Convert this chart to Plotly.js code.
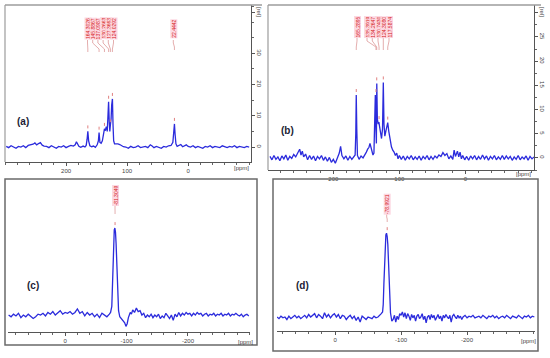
<!DOCTYPE html>
<html><head><meta charset="utf-8">
<script src="https://cdn.plot.ly/plotly-3.0.1.min.js"></script>
<style>html,body{margin:0;padding:0;background:#fff}#chart{width:550px;height:358px}</style>
</head><body><div id="chart"></div>
<script>
// ---------------- data ----------------
// (a) 13C spectrum
const ppmA=[298,294,290,286,282,278,274,270,266,262,
 258,254,251,248,245,242,239,236,
 232,228,224,220,216,212,208,204,200,196,192,188,
 185,183,181,179,176,172,169,167,165.5,164.3,163,161,158,155,152,149,147,145.9,144.5,142.5,140.5,139,137.1,135.5,134,132.5,131.2,130.3,129.2,128.3,127.4,126.2,125.2,124,123,122,120.5,118,115,112,109,106,
 102,98,94,90,86,82,78,74,70,66,62,
 59,56,52,48,44,40,36,32,28,25,23.4,22.4,21.3,20,18,15,12,9,6,3,0,
 -4,-8,-12,-16,-20,-24,-28,-32,-36,-40,-44,-48,-52,-56,-60,-64,-68,-72,-76,-80,-84,-88,-92,-96,-100];
const intA=[0.2,-0.2,0.4,0.0,-0.4,0.2,0.0,0.4,-0.2,0.5,
 0.6,0.9,1.3,0.7,1.1,1.4,0.6,0.3,
 0.2,-0.2,0.4,0.0,-0.4,0.2,0.0,0.4,-0.2,0.2,0.5,0.3,
 0.7,1.7,0.8,0.2,-0.1,0.3,0.0,0.5,2.5,5.0,2.0,0.4,0.1,0.3,-0.1,0.7,2.0,4.6,1.5,1.2,2.0,3.5,5.8,5.5,6.5,5.0,9.0,14.5,8.0,5.0,7.0,9.0,13.5,15.4,7.0,2.0,1.0,1.1,1.0,0.8,0.4,0.1,
 0.0,-0.4,0.2,-0.2,0.0,0.4,-0.2,0.0,0.2,-0.2,0.7,
 0.3,-0.2,0.2,0.0,-0.4,0.2,0.0,0.4,0.5,1.5,5.0,7.4,4.0,1.0,0.2,0.6,0.8,0.1,0.5,0.7,0.2,
 0.0,0.4,-0.2,0.2,0.0,-0.4,0.2,0.0,0.4,-0.2,0.2,0.0,-0.2,0.4,0.0,-0.2,0.2,0.0,0.4,-0.2,0.2,0.0,-0.2,0.2,0.0];
const peakPpmA=[164.3026,145.8867,137.0987,130.2663,127.3663,124.0292];
const peakHA=[5.0,4.6,5.8,14.5,7.0,15.4];
const peakPpmA2=[22.4442];
const peakHA2=[7.4];

// (b) 13C spectrum
const ppmB=[296,293,290,287,284,281,278,275,272,269,266,263,260,257,254,251,
 249,247,245,
 242,239,236,233,230,227,224,221,218,215,212,209,206,203,200,197,194,191,
 189,187,
 184,181,178,175,172,169,
 167,166,165.3,164.5,163.5,
 161,158,155,152,
 150,148,146,144.5,143,141.5,140,138.5,137.5,136.4,135.5,134.8,134.2,133.3,132,131,130,128.5,127,125.5,124.3,123.3,122,120.5,119,117.6,116,114,112,110,108,106,104,102,100,
 97,94,91,88,85,82,79,76,73,70,67,64,61,58,55,52,49,46,43,
 40,37,34,31,28,25,22,19,
 17,15,12,10,8,6,4,1,
 -2,-5,-8,-11,-14,-17,-20,-23,-26,-29,-32,-35,-38,-41,-44,-47,-50,-53,-56,-59,-62,-65,-68,-71,-74,-77,-80,-83,-86,-89,-92,-95,-98,-101,-104];
const intB=[0.3,-0.4,0.5,-0.3,0.2,-0.6,0.4,-0.2,0.6,-0.5,0.3,-0.1,0.7,0.2,1.0,1.8,
 0.6,1.4,0.2,
 0.8,-0.4,0.5,-0.3,0.4,-0.6,0.3,-0.2,0.5,-0.5,0.2,-0.7,0.1,-0.9,-0.3,-1.1,0.0,1.0,
 2.4,0.5,
 -0.2,0.4,-0.5,0.3,-0.3,0.2,
 0.6,5.0,13.0,6.0,0.5,
 -0.3,0.4,0.0,0.6,
 1.2,1.8,2.2,3.0,2.0,1.2,0.6,1.0,5.0,13.0,6.0,3.0,15.4,8.0,7.0,7.4,6.5,5.0,4.0,6.0,15.6,7.0,4.5,5.5,6.5,7.3,5.5,3.5,2.3,1.6,1.2,0.5,1.0,-0.2,0.5,
 -0.3,0.4,-0.5,0.3,-0.2,0.5,-0.4,0.2,-0.3,0.4,-0.5,0.3,-0.2,0.5,-0.4,0.3,-0.3,0.4,0.0,
 0.6,0.3,1.1,0.5,0.9,-0.2,0.4,-0.3,
 1.6,0.3,1.4,0.2,1.2,-0.2,0.5,-0.4,
 0.3,-0.5,0.4,-0.2,0.5,-0.4,0.3,-0.3,0.6,-0.2,0.4,-0.5,0.3,-0.2,0.5,-0.4,0.2,-0.3,0.5,-0.3,0.4,-0.2,0.3,-0.5,0.2,-0.3,0.5,-0.4,0.2,-0.2,0.4,-0.5,0.3,-0.2,0.2];
const peakPpmB=[165.2895,135.3919,134.2647,130.7430,124.3080,117.5874];
const peakHB=[13.0,13.0,15.4,7.4,15.6,7.3];

// (c) 19F spectrum
const ppmC=[92,88,84,80,76,72,68,64,60,56,52,48,44,40,36,32,28,24,20,16,12,8,4,0,-4,-8,-12,-16,-20,-24,-28,-32,-36,-40,-44,-48,-52,-56,-60,-64,-68,-72,
 -74,-76,-77,-78,-79,-80,-81,-82,-83,-84,-85,-86,-87,-89,-91,-94,-97,-99,-101,-103,
 -106,-108,-110,-113,-116,-119,-122,-125,
 -128,-131,-134,-137,-140,-143,-146,-149,-152,-155,-158,-161,-164,-167,-170,-173,-176,-179,-182,-185,-188,-191,-194,-197,-200,-203,-206,-209,-212,-215,-218,-221,-224,-227,-230,-233,-236,-239,-242,-245,-248,-251,-254,-257,-260,-263,-266,-269,-272,-275,-278,-281,-284,-287,-290,-293,-296,-299];
const intC=[0,-2,1,-1,2,-3,0,-2,1,-1,-4,-2,1,0,2,-1,3,1,4,0,2,5,1,3,2,4,1,3,7,2,4,-1,3,0,2,-2,1,-3,2,0,-2,1,
 3,10,35,70,90,98,100,95,82,60,35,15,5,-2,-4,-6,-9,-13,-10,-3,
 3,1,6,3,8,4,5,0,
 2,-3,0,-2,1,-3,0,-2,1,-4,-1,-3,2,-1,-4,0,-6,1,-2,3,-1,2,0,3,1,2,-1,2,0,3,1,2,-1,1,2,-1,1,0,2,-1,1,0,2,-1,1,0,2,-1,1,0,2,0,-1,1,-2,0,1,-1];
const peakPpmC=[-81.3049];
const peakHC=[100];

// (d) 19F spectrum
const ppmD=[88,85,82,79,76,73,70,67,64,61,58,55,52,49,46,43,40,37,34,31,28,25,22,19,16,13,10,7,4,1,-2,-5,-8,-11,-14,-17,-20,-23,-26,-29,-32,-35,-38,-41,-44,-47,-50,-53,-56,-59,-62,-65,-68,
 -70,-72,-73,-74,-75,-76,-77,-78,-79,-80,-81,-82,-83,-84,-85,-86,
 -88,-90,-92,-94,-96,-98,-100,-102,-104,-106,-108,-110,-112,-114,-116,-118,-120,-122,-124,-126,-128,-130,-132,-134,-136,-138,-140,-142,-144,-146,-148,-150,-152,-154,-156,-158,-160,-162,-164,-166,-168,-170,-172,-174,-176,-178,-180,-182,-184,-186,-188,-190,-192,-194,
 -197,-200,-203,-206,-209,-212,-215,-218,-221,-224,-227,-230,-233,-236,-239,-242,-245,-248,-251,-254,-257,-260,-263,-266,-269,-272,-275,-278,-281,-284,-287,-290,-293,-296,-299,-302];
const intD=[0,-2,1,-1,0,-3,1,-2,0,2,-1,1,-2,0,2,-1,3,0,2,4,-1,3,1,-2,5,0,3,-1,2,4,0,3,-2,2,1,-3,0,2,-2,1,-4,0,-6,1,-1,-3,0,-1,-2,1,-1,0,2,
 4,6,15,40,70,90,98,100,96,86,65,40,18,5,0,-5,
 -3,2,-6,1,-3,4,2,6,0,5,-2,4,1,-4,3,-1,2,-5,1,3,-2,0,4,-3,1,-7,0,2,-3,3,-1,2,-4,0,3,-2,1,-5,2,-1,3,0,-2,2,-6,1,3,0,-2,2,-1,1,-3,0,
 2,-1,1,0,2,-1,0,1,-1,2,0,-2,1,0,2,-1,1,-2,0,1,-1,2,0,-2,1,0,-1,2,0,-2,1,0,2,-1,1,0];
const peakPpmD=[-78.9921];
const peakHD=[100];

// tick labels
const tickValsAB=[200,100,0];
const tickTextAB=['200','100','0'];
const tickValsCD=[0,-100,-200];
const tickTextCD=['0','-100','-200'];
const yTickA=[0,10,20,30,43]; const yTextA=['0','10','20','30','[rel]'];
const yTickB=[0,5,10,15,20,25,30]; const yTextB=['0','5','10','15','20','25','[rel]'];
const panelNames=['(a)','(b)','(c)','(d)'];

// ---------------- geometry (pixels) ----------------
const W=550,H=358;
const GA={xd:[5,251],yd:[5,162],xr:[300,-103],yr:[-4.8,45.5]};
const GB={xd:[268,534],yd:[5,170],xr:[299,-104],yr:[-2.5,31.6]};
const GC={xd:[8,250],yd:[182,332],xr:[93,-301],yr:[-19.5,153]};
const GD={xd:[277,535],yd:[182,331],xr:[88,-303],yr:[-16.7,161]};
const fx=p=>p/W, fy=p=>1-p/H;
const ppmAt=(g,px)=>g.xr[0]-(px-g.xd[0])/(g.xd[1]-g.xd[0])*(g.xr[0]-g.xr[1]);
const yPx=(g,v)=>g.yd[1]-(v-g.yr[0])/(g.yr[1]-g.yr[0])*(g.yd[1]-g.yd[0]);

const FONT='Liberation Sans, Arial, sans-serif';
const LINE='#2b2bdc';
const mk=(x,y,xa,ya)=>({x:x,y:y,xaxis:xa,yaxis:ya,type:'scatter',mode:'lines',line:{color:LINE,width:1.3},hoverinfo:'skip'});
const data=[mk(ppmA,intA,'x','y'),mk(ppmB,intB,'x2','y2'),mk(ppmC,intC,'x3','y3'),mk(ppmD,intD,'x4','y4')];

function xax(g,ya,tv,tt){return {domain:[fx(g.xd[0]),fx(g.xd[1])],range:g.xr,anchor:ya,showgrid:false,zeroline:false,
 showline:true,linecolor:'#555',linewidth:1,ticks:'outside',ticklen:3,tickcolor:'#555',tickwidth:1,
 tickmode:'array',tickvals:tv,ticktext:tt,tickfont:{size:6,color:'#444',family:FONT},
 minor:{dtick:20,tick0:0,ticklen:2,tickcolor:'#666',ticks:'outside'}};}
function yaxR(g,xa,tv,tt,md){return {domain:[fy(g.yd[1]),fy(g.yd[0])],range:g.yr,anchor:xa,side:'right',showgrid:false,zeroline:false,
 showline:true,linecolor:'#555',linewidth:1,ticks:'outside',ticklen:3,tickcolor:'#555',
 tickmode:'array',tickvals:tv,ticktext:tt,tickangle:90,tickfont:{size:6,color:'#444',family:FONT},
 minor:{dtick:md,tick0:0,ticklen:2,tickcolor:'#666',ticks:'outside'}};}
function yaxH(g,xa){return {domain:[fy(g.yd[1]),fy(g.yd[0])],range:g.yr,anchor:xa,visible:false};}

const annotations=[], shapes=[];
// panel frames
const gray='#9c9c9c', dark='#6a6a6a';
const ln=(x0,y0,x1,y1,c,w)=>shapes.push({type:'line',xref:'paper',yref:'paper',x0:fx(x0),y0:fy(y0),x1:fx(x1),y1:fy(y1),line:{color:c,width:w}});
ln(5,5,262,5,gray,1.5); ln(5,5,5,162,gray,1.2);
ln(268,5,541,5,gray,1.5); ln(268,5,268,170,gray,1.2);
shapes.push({type:'rect',xref:'paper',yref:'paper',x0:fx(5),y0:fy(345),x1:fx(257),y1:fy(179),line:{color:dark,width:1.5}});
shapes.push({type:'rect',xref:'paper',yref:'paper',x0:fx(273),y0:fy(351),x1:fx(538),y1:fy(179),line:{color:dark,width:1.5}});

// panel tags
const tagPos=[[23,122],[287,130],[33,285],[302,285]];
panelNames.forEach((t,i)=>annotations.push({text:t,xref:'paper',yref:'paper',x:fx(tagPos[i][0]),y:fy(tagPos[i][1]),showarrow:false,xanchor:'center',yanchor:'middle',font:{size:10,color:'#1c1c34',family:FONT,weight:'bold'}}));
// [ppm] unit labels
[[241,168],[523,174],[245,342],[528,341]].forEach(p=>annotations.push({text:'[ppm]',xref:'paper',yref:'paper',x:fx(p[0]),y:fy(p[1]),showarrow:false,xanchor:'center',yanchor:'middle',font:{size:6,color:'#444',family:FONT}}));

// peak labels
const groups=[
 {g:GA,ax:'x',pk:peakPpmA,h:peakHA,lx:[87.5,92.7,97.9,103.1,108.3,113.5],top:17,bot:40,end:52},
 {g:GA,ax:'x',pk:peakPpmA2,h:peakHA2,lx:[173.3],top:17,bot:40,end:50},
 {g:GB,ax:'x2',pk:peakPpmB,h:peakHB,lx:[357,367,372.3,378,383.3,389],top:17,bot:38,end:50},
 {g:GC,ax:'x3',pk:peakPpmC,h:peakHC,lx:[115],top:185,bot:206,end:214},
 {g:GD,ax:'x4',pk:peakPpmD,h:peakHD,lx:[386.7],top:195,bot:214,end:222}
];
groups.forEach(gr=>{
 gr.pk.forEach((p,i)=>{
  const lxp=ppmAt(gr.g,gr.lx[i]);
  annotations.push({x:lxp,xref:gr.ax,y:fy((gr.top+gr.bot)/2),yref:'paper',text:p.toFixed(4),textangle:-90,showarrow:false,
   xanchor:'center',yanchor:'middle',font:{size:5,color:'#d42020',family:FONT},bgcolor:'#fcd8e2',borderpad:0});
  shapes.push({type:'path',xref:gr.ax,yref:'paper',
   path:'M'+lxp+','+fy(gr.bot)+' L'+lxp+','+fy(gr.bot+3)+' L'+p+','+fy(gr.end-3)+' L'+p+','+fy(gr.end),
   line:{color:'#d99',width:0.8}});
  const py=yPx(gr.g,gr.h[i]);
  shapes.push({type:'line',xref:gr.ax,yref:'paper',x0:p,x1:p,y0:fy(py-3),y1:fy(py-6),line:{color:'#e08080',width:1}});
 });
});

const layout={width:W,height:H,margin:{l:0,r:0,t:0,b:0},paper_bgcolor:'#fff',plot_bgcolor:'rgba(0,0,0,0)',showlegend:false,
 font:{family:FONT},
 xaxis:xax(GA,'y',tickValsAB,tickTextAB), yaxis:yaxR(GA,'x',yTickA,yTextA,5),
 xaxis2:xax(GB,'y2',tickValsAB,tickTextAB), yaxis2:yaxR(GB,'x2',yTickB,yTextB,2.5),
 xaxis3:xax(GC,'y3',tickValsCD,tickTextCD), yaxis3:yaxH(GC,'x3'),
 xaxis4:xax(GD,'y4',tickValsCD,tickTextCD), yaxis4:yaxH(GD,'x4'),
 annotations:annotations, shapes:shapes};
Plotly.newPlot('chart',data,layout,{staticPlot:true,displayModeBar:false});
</script></body></html>
